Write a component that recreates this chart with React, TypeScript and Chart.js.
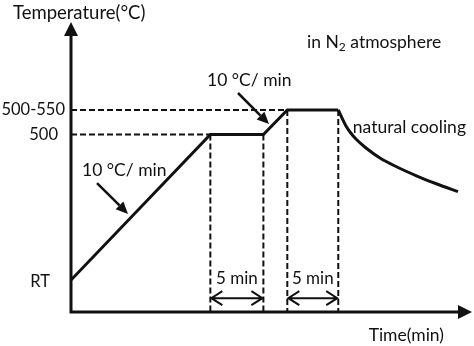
import React, { useEffect, useRef } from "react";
import { Chart, registerables } from "chart.js";

Chart.register(...registerables);

// ---- schematic data (time in min units, temperature in schematic °C units) ----
const RT = 203;
const profileTime = [0, 13.4, 18.5, 20.8, 25.7];
const profileTemp = [RT, 500, 500, 550, 550];
const coolingTime = [25.7, 26.06, 26.44, 26.83, 27.4, 28.37, 29.71, 31.35, 33.27, 35.19, 37.21];
const coolingTemp = [550, 533.7, 517.3, 505.1, 490.8, 472.4, 452.0, 433.7, 415.3, 399.0, 383.3];
const yTickValues = [RT, 500, 550];
const yTickLabels = ["RT", "500", "500-550"];
const holdStart = [13.4, 20.8];
const holdEnd = [18.5, 25.7];
const holdTemp = [500, 550];
const holdLabels = ["5 min", "5 min"];
const rampLabels = ["10 °C/ min", "10 °C/ min"];
const xTitle = "Time(min)";
const yTitle = "Temperature(°C)";
const coolingLabel = "natural cooling";

const X_MIN = 0;
const X_MAX = 38.56;
const Y_MIN = 137.8;
const Y_MAX = 729.6;

const FONT = "Lato, 'Open Sans', sans-serif";
const FS = 17.5;
const INK = "#111";

const annotationPlugin = {
  id: "schematicAnnotations",
  afterDatasetsDraw(chart: any) {
    const { ctx, chartArea, scales } = chart;
    const xs = scales.x;
    const ys = scales.y;
    const X = (v: number) => xs.getPixelForValue(v);
    const Y = (v: number) => ys.getPixelForValue(v);
    const L = chartArea.left;
    const B = chartArea.bottom;
    const T = chartArea.top;
    const R = chartArea.right;

    ctx.save();
    ctx.strokeStyle = INK;
    ctx.fillStyle = INK;
    ctx.lineCap = "butt";

    // axes
    ctx.lineWidth = 3;
    ctx.beginPath();
    ctx.moveTo(L, B + 1.5);
    ctx.lineTo(L, T + 13);
    ctx.moveTo(L - 1.5, B);
    ctx.lineTo(R - 13, B);
    ctx.stroke();
    // arrowheads
    ctx.beginPath();
    ctx.moveTo(L, T);
    ctx.lineTo(L - 7, T + 14);
    ctx.lineTo(L + 7, T + 14);
    ctx.closePath();
    ctx.fill();
    ctx.beginPath();
    ctx.moveTo(R, B);
    ctx.lineTo(R - 14, B - 7);
    ctx.lineTo(R - 14, B + 7);
    ctx.closePath();
    ctx.fill();

    ctx.textBaseline = "middle";

    // y tick labels
    ctx.font = `16.5px ${FONT}`;
    ctx.textAlign = "right";
    const tickOffsets = [21, 13, 6];
    yTickValues.forEach((v, i) => {
      ctx.fillText(yTickLabels[i], L - tickOffsets[i], Y(v) + (i === 0 ? 2 : 0));
    });

    // titles
    ctx.font = `18.5px ${FONT}`;
    ctx.textAlign = "left";
    ctx.fillText(yTitle, 13, 13);
    ctx.font = `${FS}px ${FONT}`;
    ctx.textAlign = "right";
    ctx.fillText(xTitle, 444, B + 23);

    // hold duration double arrows + labels
    ctx.lineWidth = 2;
    const arrowY = Y(166);
    ctx.font = `17px ${FONT}`;
    holdStart.forEach((s, i) => {
      const x1 = X(s) + 1;
      const x2 = X(holdEnd[i]) - 1;
      ctx.beginPath();
      ctx.moveTo(x1, arrowY);
      ctx.lineTo(x2, arrowY);
      ctx.moveTo(x1 + 11, arrowY - 7);
      ctx.lineTo(x1, arrowY);
      ctx.lineTo(x1 + 11, arrowY + 7);
      ctx.moveTo(x2 - 11, arrowY - 7);
      ctx.lineTo(x2, arrowY);
      ctx.lineTo(x2 - 11, arrowY + 7);
      ctx.stroke();
      ctx.textAlign = "center";
      ctx.fillText(holdLabels[i], (X(s) + X(holdEnd[i])) / 2, Y(207));
    });

    // ramp rate labels with arrows
    ctx.font = `${FS}px ${FONT}`;
    const rampText = [
      { x: 1.06, y: 427.6 },
      { x: 13.08, y: 611 },
    ];
    const rampArrows = [
      { x1: 2.5, y1: 401, x2: 5.48, y2: 338 },
      { x1: 16.06, y1: 584.7, x2: 19.04, y2: 521.4 },
    ];
    ctx.textAlign = "left";
    rampText.forEach((p, i) => {
      ctx.fillText(rampLabels[i], X(p.x), Y(p.y));
      const a = rampArrows[i];
      const ax1 = X(a.x1), ay1 = Y(a.y1), ax2 = X(a.x2), ay2 = Y(a.y2);
      const ang = Math.atan2(ay2 - ay1, ax2 - ax1);
      const hl = 12, hw = 5.5;
      const bx = ax2 - hl * Math.cos(ang);
      const by = ay2 - hl * Math.sin(ang);
      ctx.lineWidth = 2.5;
      ctx.beginPath();
      ctx.moveTo(ax1, ay1);
      ctx.lineTo(bx, by);
      ctx.stroke();
      ctx.beginPath();
      ctx.moveTo(ax2, ay2);
      ctx.lineTo(bx + hw * Math.sin(ang), by - hw * Math.cos(ang));
      ctx.lineTo(bx - hw * Math.sin(ang), by + hw * Math.cos(ang));
      ctx.closePath();
      ctx.fill();
    });

    // natural cooling
    ctx.fillText(coolingLabel, X(27.1), Y(515.3));

    // in N2 atmosphere
    let tx = X(22.7);
    const ty = Y(688.8);
    ctx.fillText("in N", tx, ty);
    tx += ctx.measureText("in N").width;
    ctx.font = `12px ${FONT}`;
    ctx.fillText("2", tx, ty + 5);
    tx += ctx.measureText("2").width;
    ctx.font = `${FS}px ${FONT}`;
    ctx.fillText(" atmosphere", tx, ty);

    ctx.restore();
  },
};

export default function App() {
  const canvasRef = useRef<HTMLCanvasElement | null>(null);

  useEffect(() => {
    document.body.style.margin = "0";
    document.body.style.background = "#fff";
    const canvas = canvasRef.current;
    if (!canvas) return;

    const guide = (pts: { x: number; y: number }[]) => ({
      type: "line" as const,
      data: pts,
      borderColor: INK,
      borderWidth: 2,
      borderDash: [6, 3],
      pointRadius: 0,
      fill: false,
      tension: 0,
    });

    const guides = [
      guide([{ x: X_MIN, y: holdTemp[1] }, { x: holdStart[1], y: holdTemp[1] }]),
      guide([{ x: X_MIN, y: holdTemp[0] }, { x: holdStart[0], y: holdTemp[0] }]),
      ...holdStart.flatMap((s, i) => [
        guide([{ x: s, y: holdTemp[i] }, { x: s, y: Y_MIN }]),
        guide([{ x: holdEnd[i], y: holdTemp[i] }, { x: holdEnd[i], y: Y_MIN }]),
      ]),
    ];

    const chart = new Chart(canvas, {
      type: "line",
      data: {
        datasets: [
          {
            data: profileTime.map((t, i) => ({ x: t, y: profileTemp[i] })),
            borderColor: INK,
            borderWidth: 3,
            pointRadius: 0,
            fill: false,
            tension: 0,
            borderJoinStyle: "miter",
          },
          {
            data: coolingTime.map((t, i) => ({ x: t, y: coolingTemp[i] })),
            borderColor: INK,
            borderWidth: 3,
            pointRadius: 0,
            fill: false,
            cubicInterpolationMode: "monotone",
          },
          ...guides,
        ] as any,
      },
      options: {
        animation: false,
        responsive: false,
        maintainAspectRatio: false,
        layout: { padding: { left: 71, right: 2, top: 22, bottom: 34 } },
        plugins: { legend: { display: false }, tooltip: { enabled: false }, title: { display: false } },
        scales: {
          x: { type: "linear", min: X_MIN, max: X_MAX, display: false },
          y: { type: "linear", min: Y_MIN, max: Y_MAX, display: false },
        },
        events: [],
      },
      plugins: [annotationPlugin],
    });

    return () => chart.destroy();
  }, []);

  return (
    <div style={{ width: 474, height: 346, background: "#fff" }}>
      <canvas ref={canvasRef} width={474} height={346} style={{ display: "block" }} />
    </div>
  );
}
